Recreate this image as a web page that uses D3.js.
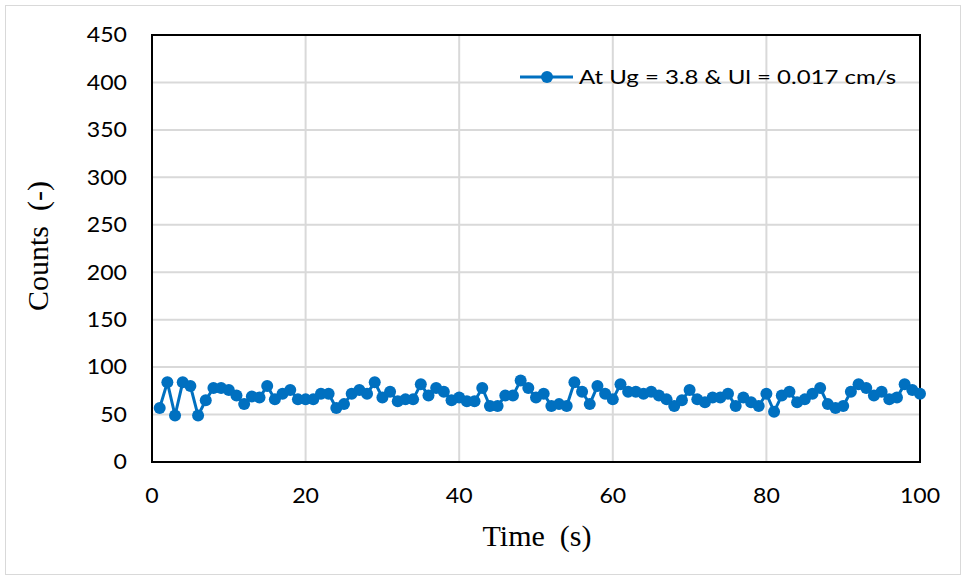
<!DOCTYPE html>
<html><head><meta charset="utf-8">
<script src="https://cdn.jsdelivr.net/npm/d3@7"></script>
<style>body{margin:0;background:#fff}svg{display:block}.pre{white-space:pre}</style>
</head><body><svg id="c" width="963" height="578"></svg>
<script>
const times = d3.range(1, 101);
const counts = [57,84,49,84,80,49,65,78,78,76,70,61,69,68,80,66,72,76,66,66,
66,72,72,57,61,72,76,72,84,68,74,64,66,66,82,70,78,74,65,68,
64,64,78,59,59,70,70,86,78,68,72,59,61,59,84,74,61,80,72,66,
82,74,74,72,74,70,66,59,65,76,66,63,68,68,72,59,68,63,59,72,
53,70,74,63,66,72,78,61,57,59,74,82,78,70,74,66,68,82,76,72];
const xTicks = [0,20,40,60,80,100];
const yTicks = [0,50,100,150,200,250,300,350,400,450];
const seriesName = "At Ug = 3.8 & Ul = 0.017 cm/s";

const svg = d3.select("#c");
svg.append("rect").attr("x",5.5).attr("y",5.5).attr("width",955).attr("height",569)
  .attr("fill","#fff").attr("stroke","#d9d9d9");
const L=152,R=920,T=35,B=462;
const x = d3.scaleLinear().domain([0,100]).range([L,R]);
const y = d3.scaleLinear().domain([0,450]).range([B,T]);
const g = svg.append("g");
g.selectAll("line.gy").data(yTicks).join("line").attr("x1",L).attr("x2",R)
  .attr("y1",d=>y(d)).attr("y2",d=>y(d)).attr("stroke","#d9d9d9").attr("stroke-width",2);
g.selectAll("line.gx").data(xTicks).join("line").attr("y1",T).attr("y2",B)
  .attr("x1",d=>x(d)).attr("x2",d=>x(d)).attr("stroke","#d9d9d9").attr("stroke-width",2);
g.append("rect").attr("x",L).attr("y",T).attr("width",R-L).attr("height",B-T)
  .attr("fill","none").attr("stroke","#000").attr("stroke-width",2);
const font = "Lato, 'Open Sans', sans-serif";
g.selectAll("text.yt").data(yTicks).join("text")
  .attr("transform",d=>`translate(127,${y(d)}) scale(1.1,1)`).attr("dy","0.35em")
  .attr("text-anchor","end").attr("font-family",font).attr("font-size",21).attr("fill","#000").text(d=>d);
g.selectAll("text.xt").data(xTicks).join("text")
  .attr("transform",d=>`translate(${x(d)},503) scale(1.1,1)`)
  .attr("text-anchor","middle").attr("font-family",font).attr("font-size",21).attr("fill","#000").text(d=>d);
svg.append("text").attr("class","pre").attr("x",537).attr("y",546).attr("text-anchor","middle")
  .attr("font-family","'Liberation Serif', serif").attr("font-size",30).text("Time  (s)");
svg.append("text").attr("class","pre").attr("transform","translate(48,246) rotate(-90)").attr("text-anchor","middle")
  .attr("font-family","'Liberation Serif', serif").attr("font-size",30).text("Counts  (-)");
const data = times.map((t,i)=>({t,c:counts[i]}));
g.append("path").datum(data).attr("fill","none").attr("stroke","#0070c0").attr("stroke-width",3)
  .attr("d",d3.line().x(d=>x(d.t)).y(d=>y(d.c)));
g.selectAll("circle").data(data).join("circle").attr("cx",d=>x(d.t)).attr("cy",d=>y(d.c))
  .attr("r",6).attr("fill","#0070c0");
const lg = svg.append("g");
lg.append("line").attr("x1",520).attr("x2",573).attr("y1",77).attr("y2",77).attr("stroke","#0070c0").attr("stroke-width",3);
lg.append("circle").attr("cx",547).attr("cy",77).attr("r",6).attr("fill","#0070c0");
lg.append("text").attr("transform","translate(579,77) scale(1.2,1)").attr("dy","0.35em").attr("font-family",font)
  .attr("font-size",20).text(seriesName);
</script></body></html>
